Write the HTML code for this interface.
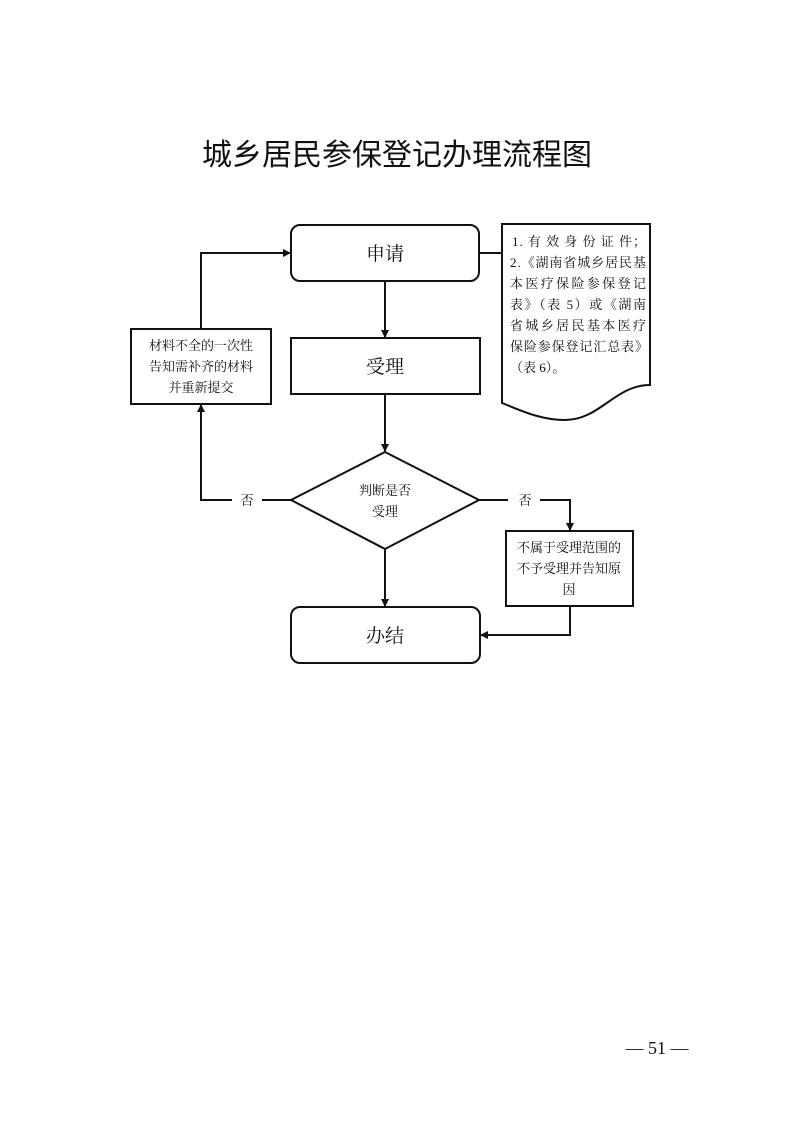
<!DOCTYPE html>
<html><head><meta charset="utf-8"><style>
body{margin:0;width:793px;height:1122px;background:#fff;overflow:hidden}
svg text{font-family:"Liberation Serif","Noto Serif CJK SC",serif;fill:#111}
</style></head><body>
<svg width="793" height="1122" viewBox="0 0 793 1122">
<defs><marker id="a" markerWidth="8" markerHeight="8" refX="7" refY="4" orient="auto" markerUnits="userSpaceOnUse"><path d="M0,0 L8,4 L0,8 Z" fill="#111"/></marker></defs>
<text x="397" y="165" font-size="30" text-anchor="middle" font-family="'Liberation Sans','Noto Sans CJK SC',sans-serif" style="font-family:'Liberation Sans','Noto Sans CJK SC',sans-serif">城乡居民参保登记办理流程图</text>
<g stroke="#111" stroke-width="2" fill="none">
<rect x="291" y="225" width="188" height="56" rx="9"/>
<rect x="291" y="338" width="189" height="56"/>
<polygon points="291,500 385,452 479,500 385,549"/>
<rect x="291" y="607" width="189" height="56" rx="9"/>
<rect x="131" y="329" width="140" height="75"/>
<rect x="506" y="531" width="127" height="75"/>
<path d="M502,224 L650,224 L650,385 C615,385 600,420 565,420 C540,420 520,410 502,403 Z"/>
<line x1="479" y1="253" x2="502" y2="253"/>
<line x1="385" y1="281" x2="385" y2="337" marker-end="url(#a)"/>
<line x1="385" y1="394" x2="385" y2="451" marker-end="url(#a)"/>
<line x1="385" y1="549" x2="385" y2="606" marker-end="url(#a)"/>
<polyline points="291,500 262,500"/>
<polyline points="232,500 201,500 201,405" marker-end="url(#a)"/>
<polyline points="201,329 201,253 290,253" marker-end="url(#a)"/>
<polyline points="479,500 508,500"/>
<polyline points="540,500 570,500 570,530" marker-end="url(#a)"/>
<polyline points="570,606 570,635 481,635" marker-end="url(#a)"/>
</g>
<g font-size="19" text-anchor="middle">
<text x="385" y="260">申请</text><text x="385" y="373">受理</text><text x="385" y="642">办结</text>
</g>
<g font-size="13" text-anchor="middle">
<text x="385" y="495">判断是否</text><text x="385" y="516">受理</text>
<text x="247" y="505">否</text><text x="525" y="505">否</text>
<text x="201" y="350">材料不全的一次性</text><text x="201" y="371">告知需补齐的材料</text><text x="201" y="392">并重新提交</text>
<text x="569" y="552">不属于受理范围的</text><text x="569" y="573">不予受理并告知原</text><text x="569" y="594">因</text>
</g>
<g font-size="13">
<text x="512" y="246" textLength="134">1. 有 效 身 份 证 件；</text>
<text x="510" y="267" textLength="136">2.《湖南省城乡居民基</text>
<text x="510" y="288" textLength="136">本医疗保险参保登记</text>
<text x="510" y="309" textLength="136">表》（表 5）或《湖南</text>
<text x="510" y="330" textLength="136">省城乡居民基本医疗</text>
<text x="510" y="351" textLength="138">保险参保登记汇总表》</text>
<text x="510" y="372">（表 6）。</text>
</g>
<text x="657" y="1054" font-size="18" text-anchor="middle">— 51 —</text>
</svg>
</body></html>
